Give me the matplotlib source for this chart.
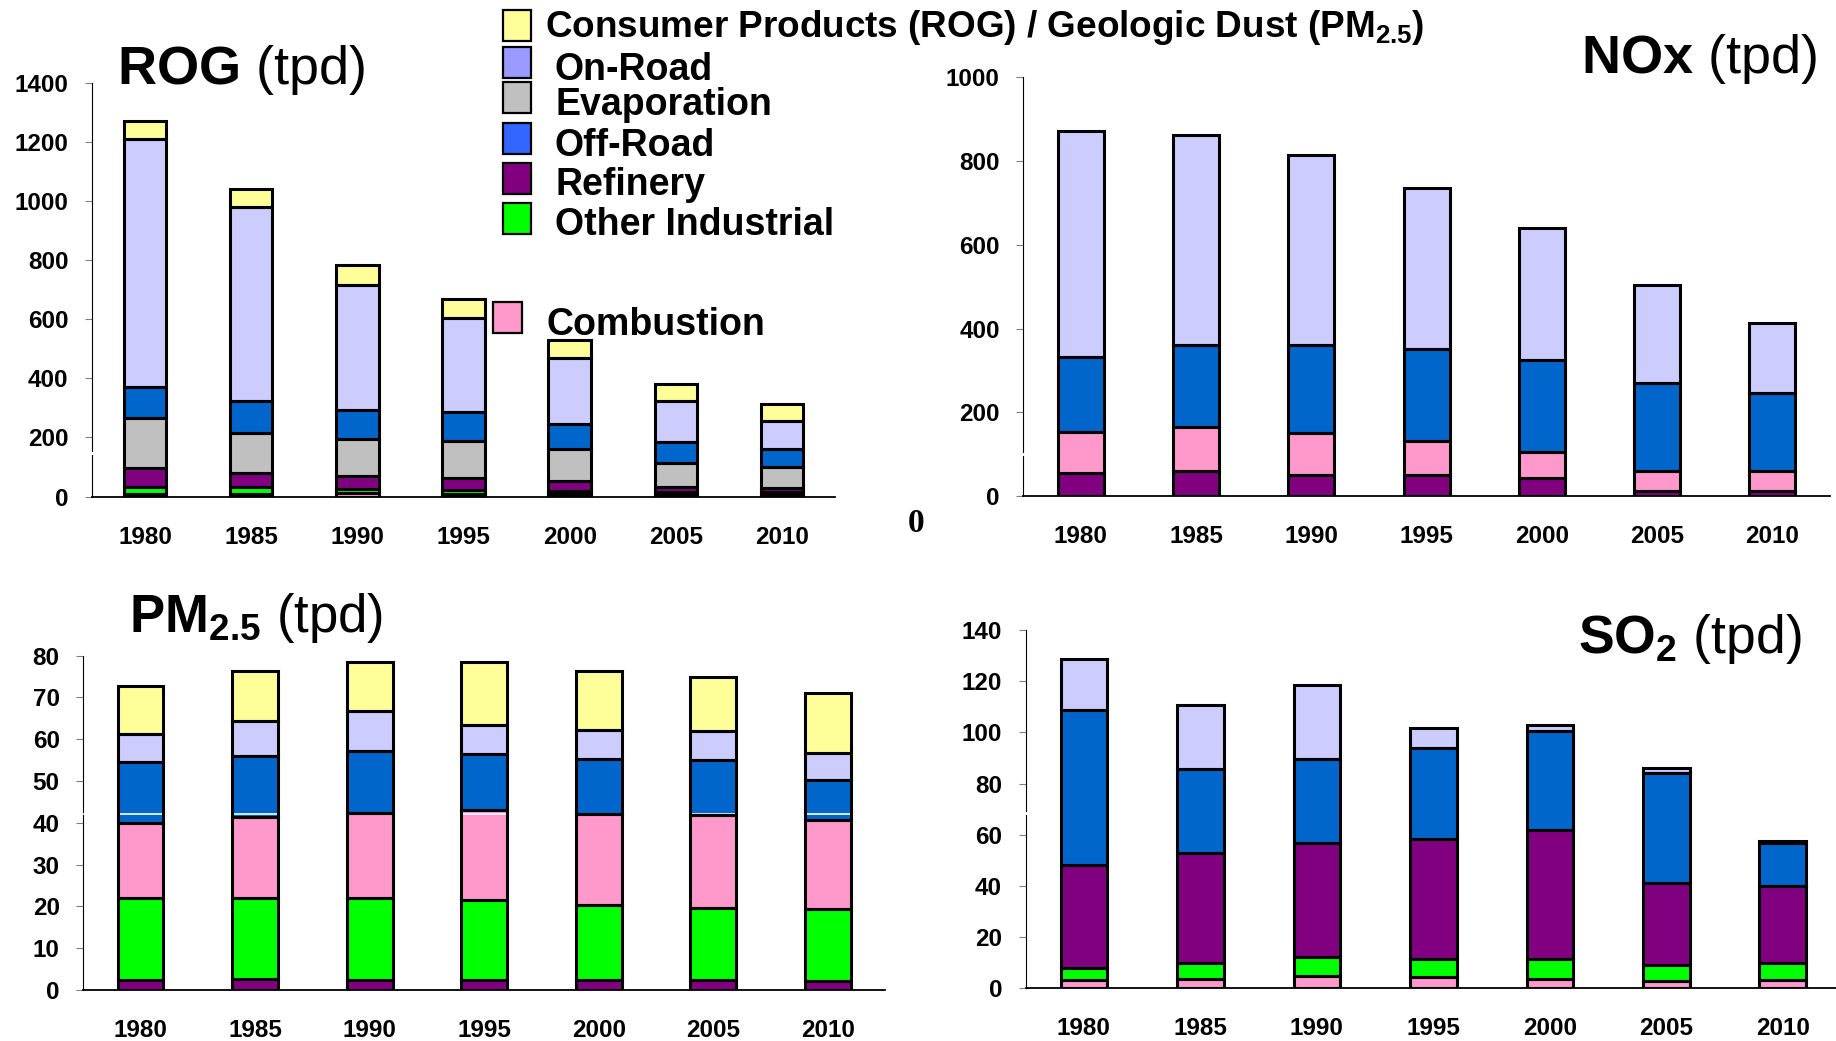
import matplotlib
matplotlib.use("Agg")
import matplotlib.pyplot as plt
from matplotlib.patches import Rectangle
from matplotlib.lines import Line2D

plt.rcParams['font.family'] = ['Liberation Sans', 'DejaVu Sans']
plt.rcParams['mathtext.fontset'] = 'custom'
plt.rcParams['mathtext.rm'] = 'Liberation Sans'
plt.rcParams['mathtext.bf'] = 'Liberation Sans:bold'

# ---------------- data (tons per day) ----------------
years = ['1980', '1985', '1990', '1995', '2000', '2005', '2010']

rog_combustion = [10, 10, 12, 10, 10, 7, 7]
rog_other_ind = [21, 21, 12, 12, 8, 8, 8]
rog_refinery = [67, 50, 44, 42, 36, 17, 15]
rog_evaporation = [167, 135, 127, 125, 108, 82, 70]
rog_off_road = [106, 108, 97, 96, 84, 72, 60]
rog_on_road = [840, 655, 423, 318, 224, 138, 96]
rog_consumer = [58, 62, 68, 64, 58, 56, 56]

nox_refinery = [54, 59, 51, 51, 42, 13, 13]
nox_combustion = [100, 105, 99, 81, 64, 47, 46]
nox_off_road = [179, 196, 210, 218, 220, 211, 188]
nox_on_road = [539, 501, 454, 385, 314, 234, 166]

pm_refinery = [2.4, 2.6, 2.4, 2.4, 2.4, 2.4, 2.2]
pm_other_ind = [19.6, 19.4, 19.6, 19.2, 18.0, 17.3, 17.2]
pm_combustion = [17.9, 19.4, 20.3, 21.4, 21.6, 22.2, 21.3]
pm_off_road = [14.6, 14.6, 14.8, 13.4, 13.2, 13.2, 9.6]
pm_on_road = [6.8, 8.4, 9.6, 7.0, 7.1, 6.8, 6.5]
pm_geologic_dust = [11.5, 11.9, 11.9, 15.2, 14.0, 13.1, 14.2]

so2_combustion = [3.3, 3.6, 4.7, 4.3, 3.6, 2.9, 3.3]
so2_other_ind = [4.5, 6.2, 7.7, 7.2, 7.9, 6.2, 6.5]
so2_refinery = [40.4, 42.9, 44.4, 46.7, 50.4, 32.2, 30.0]
so2_off_road = [60.4, 32.9, 32.9, 35.6, 38.8, 43.0, 16.8]
so2_on_road = [20.2, 25.2, 28.7, 7.8, 2.0, 1.8, 1.1]

legend_labels = ['Consumer Products (ROG) / Geologic Dust ($\\mathbf{PM_{2.5}}$)',
                 'On-Road', 'Evaporation', 'Off-Road', 'Refinery',
                 'Other Industrial']

# ---------------- styling ----------------
C_YELLOW = '#FFFF99'
C_ONROAD = '#CCCCFF'
C_ONROAD_KEY = '#9999FF'
C_EVAP = '#C0C0C0'
C_OFFROAD = '#0066CC'
C_OFFROAD_KEY = '#3366FF'
C_REFINERY = '#800080'
C_OTHER = '#00FF00'
C_COMB = '#FF99CC'

W, H = 1836, 1041
fig = plt.figure(figsize=(W / 100, H / 100), dpi=100)


def fx(px):
    return px / W


def fy(py):
    return 1 - py / H


def make_axes(left, right, bottom, top):
    return fig.add_axes([fx(left), fy(bottom), (right - left) / W, (bottom - top) / H])


def style_axes(ax, ymax, ystep):
    ax.set_xlim(-0.5, 6.5)
    ax.set_ylim(0, ymax)
    ax.set_yticks([v for v in range(0, ymax + 1, ystep)])
    ax.set_xticks(range(len(years)))
    ax.set_xticklabels(years)
    for s in ('top', 'right'):
        ax.spines[s].set_visible(False)
    ax.spines['left'].set_linewidth(0.8)
    ax.spines['bottom'].set_linewidth(1.3)
    ax.tick_params(axis='x', length=0, pad=21, labelsize=17.5)
    ax.tick_params(axis='y', length=5, width=0.8, color='#808080', pad=12, labelsize=17.5)
    for lab in ax.get_xticklabels() + ax.get_yticklabels():
        lab.set_fontweight('bold')
    ax.patch.set_visible(False)


def stack(ax, layers, white_at=None):
    x = range(len(years))
    base = [0.0] * len(years)
    bottoms = []
    for vals, col in layers:
        bottoms.append(list(base))
        ax.bar(x, vals, bottom=base, width=0.4, color=col, edgecolor='none', zorder=2)
        base = [b + v for b, v in zip(base, vals)]
    if white_at is not None:
        ax.axhline(white_at, color='white', lw=1.2, zorder=2.6)
    for (vals, col), b in zip(layers, bottoms):
        ax.bar(x, vals, bottom=b, width=0.4, facecolor='none', edgecolor='black',
               linewidth=2.2, zorder=3)


# ---------------- ROG ----------------
ax_rog = make_axes(92, 835, 496.5, 82.7)
stack(ax_rog, [(rog_combustion, C_COMB), (rog_other_ind, C_OTHER),
               (rog_refinery, C_REFINERY), (rog_evaporation, C_EVAP),
               (rog_off_road, C_OFFROAD), (rog_on_road, C_ONROAD),
               (rog_consumer, C_YELLOW)])
style_axes(ax_rog, 1400, 200)

# ---------------- NOx ----------------
ax_nox = make_axes(1023.3, 1830, 496, 77.3)
stack(ax_nox, [(nox_refinery, C_REFINERY), (nox_combustion, C_COMB),
               (nox_off_road, C_OFFROAD), (nox_on_road, C_ONROAD)])
style_axes(ax_nox, 1000, 200)

# ---------------- PM2.5 ----------------
ax_pm = make_axes(83.3, 885, 990, 655.7)
stack(ax_pm, [(pm_refinery, C_REFINERY), (pm_other_ind, C_OTHER),
              (pm_combustion, C_COMB), (pm_off_road, C_OFFROAD),
              (pm_on_road, C_ONROAD), (pm_geologic_dust, C_YELLOW)], white_at=42)
style_axes(ax_pm, 80, 10)

# ---------------- SO2 ----------------
ax_so2 = make_axes(1025.7, 1841, 988.3, 630)
stack(ax_so2, [(so2_combustion, C_COMB), (so2_other_ind, C_OTHER),
               (so2_refinery, C_REFINERY), (so2_off_road, C_OFFROAD),
               (so2_on_road, C_ONROAD)])
style_axes(ax_so2, 140, 20)

# small breaks in the left axis lines
for xs, ys in [(92, 453), (1023.3, 454), (1025.7, 813)]:
    fig.add_artist(Line2D([fx(xs - 4), fx(xs + 4)], [fy(ys), fy(ys)],
                          color='white', lw=2.2, zorder=10))

# ---------------- panel titles ----------------
title_kw = dict(fontsize=39, va='baseline', ha='left')
fig.text(fx(117), fy(84), r'$\mathbf{ROG}$ (tpd)', **title_kw)
fig.text(fx(1581), fy(72.6), r'$\mathbf{NOx}$ (tpd)', **title_kw)
fig.text(fx(129), fy(632), r'$\mathbf{PM_{2.5}}$ (tpd)', fontsize=38, va='baseline', ha='left')
fig.text(fx(1578), fy(653), r'$\mathbf{SO_{2}}$ (tpd)', fontsize=38.5, va='baseline', ha='left')

# stray zero between the top panels
fig.text(fx(916), fy(523), '0', fontsize=24, fontweight='bold',
         family=['Liberation Serif', 'DejaVu Serif'], ha='center', va='center')

# ---------------- legend ----------------
key_colors = [C_YELLOW, C_ONROAD_KEY, C_EVAP, C_OFFROAD_KEY, C_REFINERY, C_OTHER]
key_tops = [10, 47, 82, 123, 163, 203]
text_base = [37, 80, 115, 156, 195, 235]
text_x = [545, 555, 555, 555, 555, 555]
text_size = [26.6, 27, 27, 27, 27, 27]
for col, top, base, tx, ts, lab in zip(key_colors, key_tops, text_base, text_x,
                                       text_size, legend_labels):
    fig.add_artist(Rectangle((fx(503), fy(top + 31)), 28 / W, 31 / H,
                             facecolor=col, edgecolor='black', lw=1.6,
                             transform=fig.transFigure))
    fig.text(fx(tx), fy(base), lab, fontsize=ts, fontweight='bold',
             ha='left', va='baseline')

fig.add_artist(Rectangle((fx(493), fy(333)), 29 / W, 31 / H,
                         facecolor=C_COMB, edgecolor='black', lw=1.6,
                         transform=fig.transFigure))
fig.text(fx(546), fy(335), 'Combustion', fontsize=27, fontweight='bold',
         ha='left', va='baseline')

fig.savefig('out.png', dpi=100, facecolor='white')
